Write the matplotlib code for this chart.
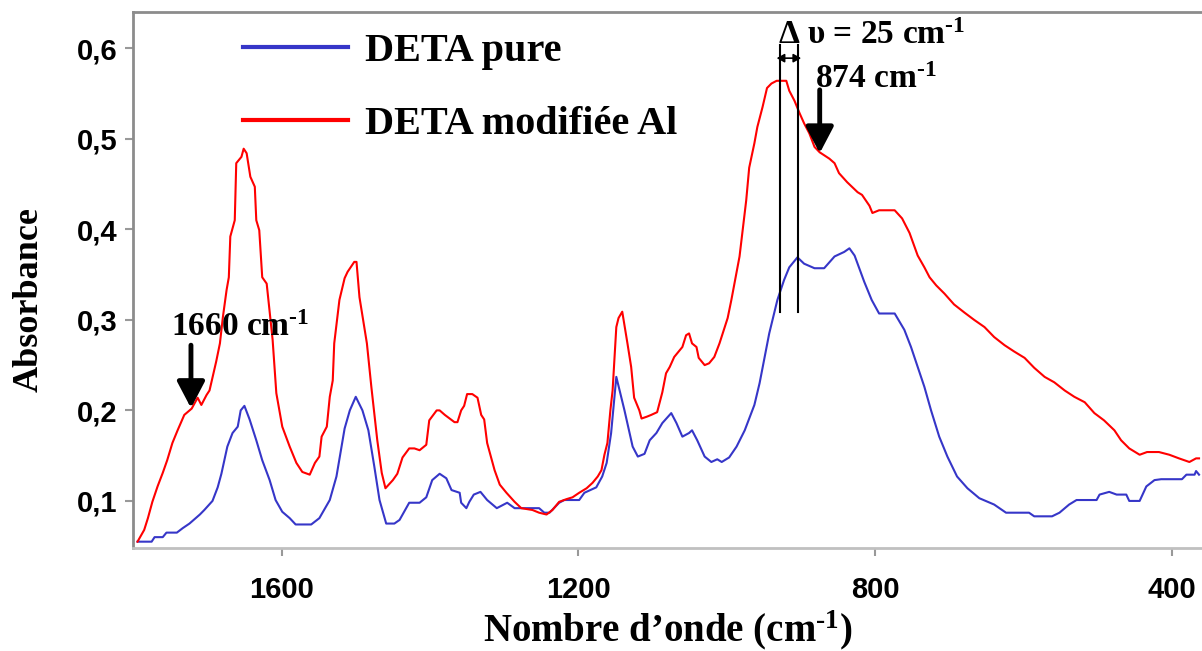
import matplotlib
matplotlib.use("Agg")
import matplotlib.pyplot as plt

plt.rcParams['mathtext.fontset'] = 'custom'
plt.rcParams['mathtext.rm'] = 'Liberation Serif:bold'
plt.rcParams['mathtext.bf'] = 'Liberation Serif:bold'
plt.rcParams['mathtext.it'] = 'Liberation Serif:bold'

# FTIR spectra (wavenumber in cm-1, absorbance)
wn_pure = [1794, 1775, 1771, 1760, 1755, 1741, 1733, 1724, 1717, 1710, 1704, 1693,
           1686, 1681, 1673, 1666, 1659, 1655, 1650, 1643, 1634, 1626, 1616, 1608,
           1599, 1589, 1581, 1560, 1549, 1535, 1526, 1515, 1508, 1500, 1491, 1483,
           1475, 1468, 1459, 1448, 1441, 1428, 1414, 1405, 1397, 1387, 1378, 1371,
           1360, 1358, 1351, 1347, 1341, 1332, 1323, 1310, 1296, 1286, 1253, 1246,
           1239, 1226, 1219, 1199, 1192, 1176, 1168, 1162, 1156, 1149, 1138, 1127,
           1120, 1111, 1104, 1095, 1087, 1075, 1068, 1060, 1051, 1047, 1040, 1030,
           1021, 1013, 1007, 997, 987, 976, 963, 956, 943, 932, 923, 916, 905, 896,
           882, 869, 855, 842, 835, 828, 815, 805, 795, 774, 761, 752, 743, 734, 725,
           714, 703, 690, 676, 660, 640, 624, 593, 586, 562, 552, 539, 529, 502, 498,
           485, 475, 462, 458, 444, 435, 424, 415, 387, 381, 370, 368, 364]
abs_pure = [0.055, 0.055, 0.060, 0.060, 0.065, 0.065, 0.070, 0.075, 0.080, 0.085, 0.090, 0.100,
            0.115, 0.130, 0.160, 0.175, 0.182, 0.200, 0.205, 0.190, 0.167, 0.145, 0.123, 0.101,
            0.088, 0.081, 0.074, 0.074, 0.081, 0.101, 0.127, 0.180, 0.200, 0.215, 0.200, 0.178,
            0.138, 0.101, 0.075, 0.075, 0.079, 0.098, 0.098, 0.104, 0.123, 0.130, 0.125, 0.112,
            0.109, 0.098, 0.092, 0.099, 0.107, 0.110, 0.101, 0.092, 0.098, 0.092, 0.092, 0.087,
            0.087, 0.098, 0.101, 0.101, 0.109, 0.115, 0.127, 0.142, 0.175, 0.237, 0.200, 0.160,
            0.149, 0.152, 0.167, 0.175, 0.186, 0.197, 0.186, 0.171, 0.175, 0.178, 0.167, 0.149,
            0.143, 0.146, 0.143, 0.148, 0.160, 0.178, 0.206, 0.230, 0.285, 0.322, 0.344, 0.358, 0.369, 0.362,
            0.357, 0.357, 0.370, 0.375, 0.379, 0.371, 0.342, 0.322, 0.307, 0.307, 0.289, 0.270, 0.248, 0.226, 0.200,
            0.171, 0.149, 0.127, 0.114, 0.103, 0.096, 0.087, 0.087, 0.083, 0.083, 0.087, 0.096, 0.101, 0.101, 0.107,
            0.110, 0.107, 0.107, 0.100, 0.100, 0.116, 0.123, 0.124, 0.124, 0.129, 0.129, 0.133, 0.129]

wn_al = [1794, 1785, 1780, 1774, 1767, 1760, 1754, 1747, 1740, 1731, 1721, 1713,
         1708, 1701, 1697, 1693, 1688, 1683, 1679, 1674, 1671, 1669, 1663, 1661,
         1654, 1651, 1647, 1642, 1636, 1634, 1630, 1626, 1620, 1612, 1607, 1599,
         1589, 1580, 1572, 1562, 1555, 1549, 1546, 1539, 1535, 1531, 1529, 1522,
         1515, 1511, 1502, 1499, 1495, 1485, 1479, 1471, 1465, 1460, 1450, 1444,
         1437, 1428, 1421, 1414, 1405, 1401, 1391, 1387, 1380, 1367, 1363, 1358,
         1354, 1350, 1343, 1336, 1331, 1327, 1323, 1313, 1306, 1297, 1286, 1277,
         1262, 1253, 1243, 1235, 1226, 1216, 1208, 1199, 1189, 1181, 1174, 1169,
         1165, 1161, 1157, 1154, 1149, 1146, 1141, 1134, 1129, 1125, 1118, 1115,
         1108, 1102, 1094, 1087, 1082, 1077, 1071, 1060, 1055, 1051, 1047, 1041,
         1038, 1030, 1024, 1017, 1010, 1003, 999, 994, 983, 974, 970, 963, 959,
         952, 946, 940, 933, 920, 916, 909, 902, 896, 889, 882, 875, 862, 855,
         849, 838, 824, 818, 808, 804, 795, 774, 764, 754, 747, 743, 734, 727,
         718, 707, 694, 680, 667, 653, 640, 626, 613, 599, 586, 572, 559, 545,
         532, 518, 505, 492, 478, 469, 458, 444, 434, 418, 404, 391, 377, 368, 364]
abs_al = [0.055, 0.068, 0.081, 0.099, 0.116, 0.131, 0.145, 0.164, 0.178, 0.195, 0.202, 0.214,
          0.206, 0.217, 0.222, 0.236, 0.254, 0.274, 0.303, 0.333, 0.347, 0.392, 0.410, 0.473,
          0.480, 0.489, 0.484, 0.458, 0.447, 0.410, 0.399, 0.347, 0.340, 0.278, 0.219, 0.182,
          0.160, 0.142, 0.132, 0.129, 0.142, 0.149, 0.171, 0.182, 0.215, 0.233, 0.274, 0.322,
          0.346, 0.353, 0.364, 0.364, 0.325, 0.274, 0.226, 0.167, 0.131, 0.114, 0.123, 0.130,
          0.148, 0.158, 0.158, 0.156, 0.162, 0.189, 0.200, 0.200, 0.195, 0.187, 0.187, 0.200,
          0.205, 0.218, 0.218, 0.214, 0.195, 0.190, 0.164, 0.134, 0.118, 0.109, 0.099, 0.092,
          0.090, 0.087, 0.085, 0.090, 0.099, 0.102, 0.104, 0.109, 0.114, 0.120, 0.127, 0.134,
          0.151, 0.164, 0.200, 0.222, 0.292, 0.302, 0.309, 0.274, 0.248, 0.214, 0.200, 0.191,
          0.193, 0.195, 0.198, 0.220, 0.241, 0.248, 0.259, 0.270, 0.283, 0.285, 0.274, 0.270,
          0.258, 0.250, 0.252, 0.259, 0.274, 0.292, 0.302, 0.322, 0.370, 0.432, 0.468, 0.495, 0.513,
          0.535, 0.556, 0.561, 0.564, 0.564, 0.553, 0.542, 0.528, 0.517, 0.506, 0.491, 0.485, 0.478, 0.473,
          0.462, 0.452, 0.441, 0.438, 0.426, 0.418, 0.421, 0.421, 0.412, 0.396, 0.380, 0.371, 0.358, 0.347,
          0.338, 0.329, 0.317, 0.308, 0.300, 0.292, 0.281, 0.272, 0.265, 0.258, 0.247, 0.237, 0.231, 0.222,
          0.215, 0.209, 0.197, 0.189, 0.178, 0.167, 0.158, 0.151, 0.154, 0.154, 0.151, 0.147, 0.143, 0.147, 0.147]

x_ticks = [1600, 1200, 800, 400]
y_ticks = [0.1, 0.2, 0.3, 0.4, 0.5, 0.6]
y_ticklabels = ["0,1", "0,2", "0,3", "0,4", "0,5", "0,6"]
series_labels = ["DETA pure", "DETA modifiée Al"]

# band positions marked on the plot
band_shoulder = 1722
band_874 = 875
shift_lines = [929, 904]

SUP = r"$^{\text{-}1}$"

serif_bold = dict(family="Liberation Serif", weight="bold")
sans_bold = dict(family="Liberation Sans", weight="bold")

fig = plt.figure(figsize=(12.02, 6.51), dpi=100)
ax = fig.add_axes([0.1107, 0.1582, 0.8893, 0.8234])

ax.plot(wn_pure, abs_pure, color="#3636C8", lw=1.5, label=series_labels[0])
ax.plot(wn_al, abs_al, color="#FF0000", lw=1.5, label=series_labels[1])

ax.set_xlim(1800, 360)
ax.set_ylim(0.048, 0.64)
ax.set_xticks(x_ticks)
ax.set_xticklabels([str(t) for t in x_ticks], fontsize=21, **sans_bold)
ax.set_yticks(y_ticks)
ax.set_yticklabels(y_ticklabels, fontsize=21, **sans_bold)
ax.tick_params(axis="both", direction="out", length=6, width=1.5, color="#999999")
ax.tick_params(axis="y", pad=5)
ax.tick_params(axis="x", pad=14)

for side in ("left", "top"):
    ax.spines[side].set_color("#8c8c8c")
    ax.spines[side].set_linewidth(2)
ax.spines["bottom"].set_color("#c0c0c0")
ax.spines["bottom"].set_linewidth(2)
ax.spines["right"].set_visible(False)

ax.set_ylabel("Absorbance", fontsize=26, labelpad=23, y=0.463, **serif_bold)
ax.set_xlabel("Nombre d’onde (cm" + SUP + ")", fontsize=28, labelpad=3, **serif_bold)

leg = ax.legend(loc="upper left", bbox_to_anchor=(0.103, 0.961), frameon=False,
                prop=dict(family="Liberation Serif", weight="bold", size=29),
                handlelength=2.6, handletextpad=0.42, labelspacing=0.88,
                borderpad=0, borderaxespad=0)
for h in leg.get_lines():
    h.set_linewidth(3)

# shoulder arrow
ax.annotate("", xy=(band_shoulder, 0.2026), xytext=(band_shoulder, 0.272),
            arrowprops=dict(arrowstyle="-|>,head_width=0.42,head_length=0.8",
                            mutation_scale=20, lw=3.5, color="black",
                            shrinkA=0, shrinkB=0))
ax.text(1656, 0.292, "1660 cm" + SUP, fontsize=24, ha="center", va="center", **serif_bold)

# 874 cm-1 arrow
ax.annotate("", xy=(band_874, 0.484), xytext=(band_874, 0.554),
            arrowprops=dict(arrowstyle="-|>,head_width=0.42,head_length=0.8",
                            mutation_scale=20, lw=3.5, color="black",
                            shrinkA=0, shrinkB=0))
ax.text(800, 0.565, "874 cm" + SUP, fontsize=24, ha="center", va="center", **serif_bold)

# band shift marker
for w in shift_lines:
    ax.plot([w, w], [0.3085, 0.603], color="black", lw=1.5)
ax.annotate("", xy=(shift_lines[1] - 4, 0.589), xytext=(shift_lines[0] + 4, 0.589),
            arrowprops=dict(arrowstyle="<|-|>,head_width=0.25,head_length=0.45",
                            mutation_scale=10, lw=1.2, color="black",
                            shrinkA=0, shrinkB=0))
ax.text(805, 0.6143, "Δ υ = 25 cm" + SUP, fontsize=24, ha="center", va="center", **serif_bold)

fig.savefig("out.png", dpi=100)
